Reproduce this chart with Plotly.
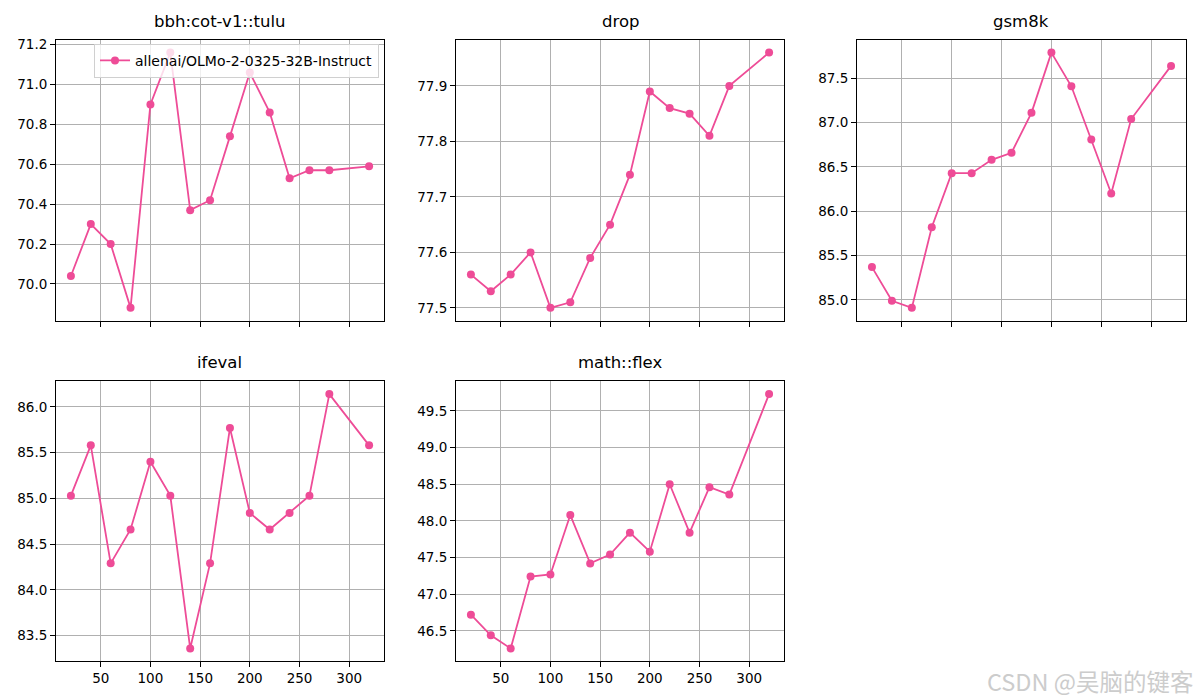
import plotly.graph_objects as go

steps = [20, 40, 60, 80, 100, 120, 140, 160, 180, 200, 220, 240, 260, 280, 320]
model_name = "allenai/OLMo-2-0325-32B-Instruct"

task_names = ["bbh:cot-v1::tulu", "drop", "gsm8k", "ifeval", "math::flex"]
bbh = [70.04, 70.30, 70.20, 69.88, 70.90, 71.16, 70.37, 70.42, 70.74, 71.06, 70.86, 70.53, 70.57, 70.57, 70.59]
drop = [77.56, 77.53, 77.56, 77.60, 77.50, 77.51, 77.59, 77.65, 77.74, 77.89, 77.86, 77.85, 77.81, 77.90, 77.96]
gsm8k = [85.37, 84.99, 84.91, 85.82, 86.43, 86.43, 86.58, 86.66, 87.11, 87.79, 87.41, 86.81, 86.20, 87.04, 87.64]
ifeval = [85.03, 85.58, 84.29, 84.66, 85.40, 85.03, 83.36, 84.29, 85.77, 84.84, 84.66, 84.84, 85.03, 86.14, 85.58]
math_flex = [46.72, 46.44, 46.26, 47.24, 47.27, 48.08, 47.42, 47.54, 47.84, 47.58, 48.50, 47.84, 48.46, 48.36, 49.73]
series = [bbh, drop, gsm8k, ifeval, math_flex]
ytick_steps = [0.2, 0.1, 0.5, 0.5, 0.5]

W, H = 1200, 700
COLOR = "#EE4C97"

# axes boxes in pixels: (left, right, top, bottom)
boxes = [
    (56, 384, 37, 319), (456, 784, 37, 319), (857, 1186, 37, 319),
    (56, 384, 380, 661), (456, 784, 380, 661),
]

fig = go.Figure()
layout = dict(
    width=W, height=H, margin=dict(l=0, r=0, t=0, b=0),
    plot_bgcolor="white", paper_bgcolor="white",
    font=dict(family="DejaVu Sans", color="black", size=14),
    showlegend=True, annotations=[],
)

xmin, xmax = min(steps), max(steps)
xpad = (xmax - xmin) * 0.05

for i, (name, vals) in enumerate(zip(task_names, series)):
    n = "" if i == 0 else str(i + 1)
    l, r, t, b = boxes[i]
    fig.add_trace(go.Scatter(
        x=steps, y=vals, mode="lines+markers", name=model_name,
        showlegend=(i == 0),
        line=dict(color=COLOR, width=1.8),
        marker=dict(color=COLOR, size=8),
        xaxis="x" + n, yaxis="y" + n,
    ))
    ymin, ymax = min(vals), max(vals)
    ypad = (ymax - ymin) * 0.05
    common = dict(
        showline=True, mirror=True, linecolor="black", linewidth=1,
        ticks="outside", ticklen=5, tickcolor="black", tickwidth=1,
        showgrid=True, gridcolor="#b0b0b0", gridwidth=0.8, zeroline=False,
        tickfont=dict(size=13.5, family="DejaVu Sans"),
    )
    layout["xaxis" + n] = dict(
        common, domain=[l / W, r / W], range=[xmin - xpad, xmax + xpad],
        tick0=0, dtick=50, anchor="y" + n,
        showticklabels=(i >= 3),
    )
    layout["yaxis" + n] = dict(
        common, domain=[1 - b / H, 1 - t / H], range=[ymin - ypad, ymax + ypad],
        tick0=0, dtick=ytick_steps[i], tickformat=".1f", anchor="x" + n,
    )
    layout["annotations"].append(dict(
        text=name, xref="paper", yref="paper", x=(l + r) / 2 / W, y=1 - (t - 7) / H,
        xanchor="center", yanchor="bottom", showarrow=False,
        font=dict(size=16.5, family="DejaVu Sans", color="black"),
    ))

layout["annotations"].append(dict(
    text="CSDN @吴脑的键客", xref="paper", yref="paper", x=1196 / W, y=1 - 681 / H,
    xanchor="right", yanchor="middle", showarrow=False,
    font=dict(size=23.5, family="Noto Sans CJK SC", color="#cccccc"),
))

layout["legend"] = dict(
    x=379 / W, y=1 - 41 / H, xanchor="right", yanchor="top",
    bgcolor="rgba(255,255,255,0.8)", bordercolor="#d0d0d0", borderwidth=1,
    font=dict(size=14, family="DejaVu Sans"), itemwidth=30,
)

fig.update_layout(**layout)
fig.write_html(
    "out.html",
    config={"displayModeBar": False},
    post_script="document.body.style.margin='0';document.body.style.overflow='hidden';",
)
